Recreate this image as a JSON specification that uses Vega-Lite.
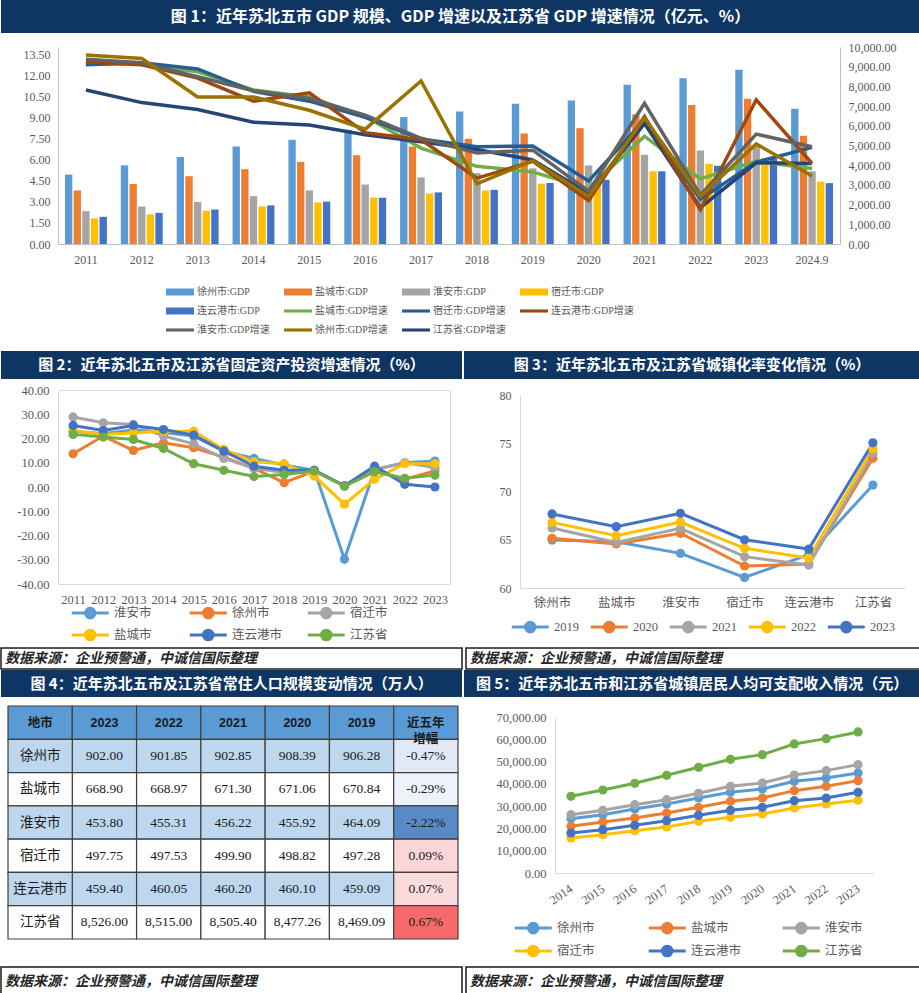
{
  "$schema": "https://vega.github.io/schema/vega-lite/v6.json",
  "background": "white",
  "padding": 0,
  "spacing": 0,
  "config": {
    "view": {"stroke": null},
    "font": "Liberation Serif, Noto Sans CJK SC",
    "locale": {"number": {"decimal": ".", "thousands": ",", "grouping": [3], "currency": ["", ""], "minus": "-"}},
    "axis": {"labelFont": "Liberation Serif, Noto Sans CJK SC", "labelColor": "#595959", "labelFontSize": 12, "domainColor": "#D9D9D9", "ticks": false, "grid": false},
    "legend": {"labelFont": "Liberation Serif, Noto Sans CJK SC", "labelColor": "#595959", "labelFontSize": 12},
    "title": {"font": "Liberation Serif, Noto Sans CJK SC"}
  },
  "resolve": {"scale": {"color": "independent", "fill": "independent"}},
  "datasets": {
    "pop": [
      {"city": "徐州市", "2023": 902.00, "2022": 901.85, "2021": 902.85, "2020": 908.39, "2019": 906.28, "g": -0.0047},
      {"city": "盐城市", "2023": 668.90, "2022": 668.97, "2021": 671.30, "2020": 671.06, "2019": 670.84, "g": -0.0029},
      {"city": "淮安市", "2023": 453.80, "2022": 455.31, "2021": 456.22, "2020": 455.92, "2019": 464.09, "g": -0.0222},
      {"city": "宿迁市", "2023": 497.75, "2022": 497.53, "2021": 499.90, "2020": 498.82, "2019": 497.28, "g": 0.0009},
      {"city": "连云港市", "2023": 459.40, "2022": 460.05, "2021": 460.20, "2020": 460.10, "2019": 459.09, "g": 0.0007},
      {"city": "江苏省", "2023": 8526.00, "2022": 8515.00, "2021": 8505.40, "2020": 8477.26, "2019": 8469.09, "g": 0.0067}
    ],
    "cols": [{"col": "地市"}, {"col": "2023"}, {"col": "2022"}, {"col": "2021"}, {"col": "2020"}, {"col": "2019"}, {"col": "近五年\n增幅"}],
    "src": [{"s": "数据来源：企业预警通，中诚信国际整理"}],
    "none": []
  },
  "vconcat": [
    {
      "width": 919, "height": 33,
      "view": {"fill": "#0F3563"},
      "data": {"values": [{"t": "图 1：近年苏北五市 GDP 规模、GDP 增速以及江苏省 GDP 增速情况（亿元、%）"}]},
      "mark": {"type": "text", "color": "white", "fontSize": 16, "fontWeight": "bold", "font": "Noto Sans CJK SC"},
      "encoding": {"text": {"field": "t"}}
    },
    {
      "hconcat": [
        {"width": 1, "height": 1, "data": {"name": "none"}, "mark": "point"},
        {
          "width": 782, "height": 197,
          "title": {"text": " ", "fontSize": 1, "offset": 7},
          "layer": [
            {
              "data": {"values": [
                {"year": "2011", "徐州市:GDP": 3520, "盐城市:GDP": 2720, "淮安市:GDP": 1670, "宿迁市:GDP": 1300, "连云港市:GDP": 1380},
                {"year": "2012", "徐州市:GDP": 3990, "盐城市:GDP": 3050, "淮安市:GDP": 1900, "宿迁市:GDP": 1500, "连云港市:GDP": 1580},
                {"year": "2013", "徐州市:GDP": 4410, "盐城市:GDP": 3440, "淮安市:GDP": 2140, "宿迁市:GDP": 1690, "连云港市:GDP": 1750},
                {"year": "2014", "徐州市:GDP": 4950, "盐城市:GDP": 3800, "淮安市:GDP": 2430, "宿迁市:GDP": 1910, "连云港市:GDP": 1960},
                {"year": "2015", "徐州市:GDP": 5290, "盐城市:GDP": 4170, "淮安市:GDP": 2720, "宿迁市:GDP": 2110, "连云港市:GDP": 2150},
                {"year": "2016", "徐州市:GDP": 5800, "盐城市:GDP": 4510, "淮安市:GDP": 3020, "宿迁市:GDP": 2350, "连云港市:GDP": 2350},
                {"year": "2017", "徐州市:GDP": 6440, "盐城市:GDP": 4950, "淮安市:GDP": 3380, "宿迁市:GDP": 2570, "连云港市:GDP": 2620},
                {"year": "2018", "徐州市:GDP": 6730, "盐城市:GDP": 5340, "淮安市:GDP": 3600, "宿迁市:GDP": 2720, "连云港市:GDP": 2750},
                {"year": "2019", "徐州市:GDP": 7120, "盐城市:GDP": 5610, "淮安市:GDP": 3840, "宿迁市:GDP": 3060, "连云港市:GDP": 3100},
                {"year": "2020", "徐州市:GDP": 7290, "盐城市:GDP": 5880, "淮安市:GDP": 3990, "宿迁市:GDP": 3260, "连云港市:GDP": 3260},
                {"year": "2021", "徐州市:GDP": 8080, "盐城市:GDP": 6590, "淮安市:GDP": 4530, "宿迁市:GDP": 3690, "连云港市:GDP": 3690},
                {"year": "2022", "徐州市:GDP": 8420, "盐城市:GDP": 7050, "淮安市:GDP": 4740, "宿迁市:GDP": 4070, "连云港市:GDP": 3970},
                {"year": "2023", "徐州市:GDP": 8840, "盐城市:GDP": 7370, "淮安市:GDP": 5000, "宿迁市:GDP": 4370, "连云港市:GDP": 4330},
                {"year": "2024.9", "徐州市:GDP": 6860, "盐城市:GDP": 5490, "淮安市:GDP": 3690, "宿迁市:GDP": 3160, "连云港市:GDP": 3090}
              ]},
              "transform": [{"fold": ["徐州市:GDP", "盐城市:GDP", "淮安市:GDP", "宿迁市:GDP", "连云港市:GDP"], "as": ["series", "v"]}],
              "mark": {"type": "bar"},
              "encoding": {
                "x": {"field": "year", "type": "nominal", "title": null,
                      "scale": {"domain": ["2011","2012","2013","2014","2015","2016","2017","2018","2019","2020","2021","2022","2023","2024.9"], "paddingInner": 0.25, "paddingOuter": 0.125},
                      "axis": {"labelAngle": 0, "labelPadding": 10, "domainColor": "#BFBFBF"}},
                "xOffset": {"field": "series", "type": "nominal", "scale": {"domain": ["徐州市:GDP", "盐城市:GDP", "淮安市:GDP", "宿迁市:GDP", "连云港市:GDP"], "paddingInner": 0.15}},
                "y": {"field": "v", "type": "quantitative", "title": null,
                      "scale": {"domain": [0, 10000], "nice": false},
                      "axis": {"orient": "right", "values": [0,1000,2000,3000,4000,5000,6000,7000,8000,9000,10000], "format": ",.2f", "labelPadding": 8, "domainColor": "#BFBFBF", "minExtent": 80}},
                "color": {"field": "series", "type": "nominal",
                          "scale": {"domain": ["徐州市:GDP","盐城市:GDP","淮安市:GDP","宿迁市:GDP","连云港市:GDP","盐城市:GDP增速","宿迁市:GDP增速","连云港市:GDP增速","淮安市:GDP增速","徐州市:GDP增速","江苏省:GDP增速"],
                                    "range": ["#5B9BD5","#ED7D31","#A5A5A5","#FFC000","#4472C4","#70AD47","#255E91","#9E480E","#636363","#997300","#264478"]},
                          "legend": {"title": " ", "titleOrient": "left", "titleFontSize": 1, "titlePadding": 149, "orient": "bottom", "direction": "horizontal", "columns": 4, "gridAlign": "all", "columnPadding": 4, "rowPadding": 0, "offset": -3, "padding": 16, "labelFontSize": 10, "labelOffset": 3,
                                     "symbolType": "M-1,-0.25H1V0.25H-1Z", "symbolSize": 784, "symbolStrokeWidth": 0,
                                     "encode": {"symbols": {"update": {"shape": {"signal": "indexof(datum.value, '增速') >= 0 ? 'M-1,-0.11H1V0.11H-1Z' : 'M-1,-0.25H1V0.25H-1Z'"}}}}}}
              }
            },
            {
              "data": {"values": [
                {"year": "2011", "盐城市:GDP增速": 12.9, "宿迁市:GDP增速": 12.8, "江苏省:GDP增速": 11.0, "连云港市:GDP增速": 13.0, "淮安市:GDP增速": 13.2, "徐州市:GDP增速": 13.5},
                {"year": "2012", "盐城市:GDP增速": 12.85, "宿迁市:GDP增速": 12.95, "江苏省:GDP增速": 10.1, "连云港市:GDP增速": 12.8, "淮安市:GDP增速": 12.95, "徐州市:GDP增速": 13.25},
                {"year": "2013", "盐城市:GDP增速": 12.3, "宿迁市:GDP增速": 12.5, "江苏省:GDP增速": 9.6, "连云港市:GDP增速": 11.85, "淮安市:GDP增速": 11.95, "徐州市:GDP增速": 10.5},
                {"year": "2014", "盐城市:GDP增速": 11.0, "宿迁市:GDP增速": 10.9, "江苏省:GDP增速": 8.7, "连云港市:GDP增速": 10.2, "淮安市:GDP增速": 10.95, "徐州市:GDP增速": 10.5},
                {"year": "2015", "盐城市:GDP增速": 10.5, "宿迁市:GDP增速": 10.2, "江苏省:GDP增速": 8.5, "连云港市:GDP增速": 10.8, "淮安市:GDP增速": 10.4, "徐州市:GDP增速": 9.55},
                {"year": "2016", "盐城市:GDP增速": 9.1, "宿迁市:GDP增速": 9.05, "江苏省:GDP增速": 7.8, "连云港市:GDP增速": 7.95, "淮安市:GDP增速": 9.2, "徐州市:GDP增速": 8.2},
                {"year": "2017", "盐城市:GDP增速": 6.85, "宿迁市:GDP增速": 7.5, "江苏省:GDP增速": 7.3, "连云港市:GDP增速": 7.45, "淮安市:GDP增速": 7.55, "徐州市:GDP增速": 11.65},
                {"year": "2018", "盐城市:GDP增速": 5.55, "宿迁市:GDP增速": 6.95, "江苏省:GDP增速": 6.75, "连云港市:GDP增速": 4.7, "淮安市:GDP增速": 6.5, "徐州市:GDP增速": 4.3},
                {"year": "2019", "盐城市:GDP增速": 5.15, "宿迁市:GDP增速": 7.0, "江苏省:GDP增速": 6.0, "连云港市:GDP增速": 5.9, "淮安市:GDP增速": 6.7, "徐州市:GDP增速": 5.95},
                {"year": "2020", "盐城市:GDP增速": 3.95, "宿迁市:GDP增速": 4.5, "江苏省:GDP增速": 3.6, "连云港市:GDP增速": 3.1, "淮安市:GDP增速": 3.75, "徐州市:GDP增速": 3.4},
                {"year": "2021", "盐城市:GDP增速": 7.7, "宿迁市:GDP增速": 8.85, "江苏省:GDP增速": 8.6, "连云港市:GDP增速": 9.1, "淮安市:GDP增速": 10.05, "徐州市:GDP增速": 9.0},
                {"year": "2022", "盐城市:GDP增速": 4.65, "宿迁市:GDP增速": 3.2, "江苏省:GDP增速": 2.6, "连云港市:GDP增速": 2.45, "淮安市:GDP增速": 3.5, "徐州市:GDP增速": 3.4},
                {"year": "2023", "盐城市:GDP增速": 5.9, "宿迁市:GDP增速": 5.85, "江苏省:GDP增速": 5.8, "连云港市:GDP增速": 10.3, "淮安市:GDP增速": 7.85, "徐州市:GDP增速": 7.15},
                {"year": "2024.9", "盐城市:GDP增速": 5.4, "宿迁市:GDP增速": 6.9, "江苏省:GDP增速": 5.75, "连云港市:GDP增速": 5.75, "淮安市:GDP增速": 6.95, "徐州市:GDP增速": 4.85}
              ]},
              "transform": [{"fold": ["盐城市:GDP增速", "宿迁市:GDP增速", "江苏省:GDP增速", "连云港市:GDP增速", "淮安市:GDP增速", "徐州市:GDP增速"], "as": ["series", "g"]}],
              "mark": {"type": "line", "strokeWidth": 3.5},
              "encoding": {
                "x": {"field": "year", "type": "nominal"},
                "y": {"field": "g", "type": "quantitative", "title": null,
                      "scale": {"domain": [0, 14.07], "nice": false},
                      "axis": {"orient": "left", "values": [0,1.5,3,4.5,6,7.5,9,10.5,12,13.5], "format": ".2f", "labelPadding": 8, "domainColor": "#BFBFBF", "minExtent": 56}},
                "color": {"field": "series", "type": "nominal", "legend": null}
              }
            }
          ],
          "resolve": {"scale": {"y": "independent"}}
        }
      ],
      "spacing": 0
    },
    {
      "hconcat": [
        {
          "width": 461, "height": 28,
          "view": {"fill": "#0F3563"},
          "data": {"values": [{"t": "图 2：近年苏北五市及江苏省固定资产投资增速情况（%）"}]},
          "mark": {"type": "text", "color": "white", "fontSize": 15, "fontWeight": "bold", "font": "Noto Sans CJK SC"},
          "encoding": {"text": {"field": "t"}}
        },
        {
          "width": 456, "height": 28,
          "view": {"fill": "#0F3563"},
          "data": {"values": [{"t": "图 3：近年苏北五市及江苏省城镇化率变化情况（%）"}]},
          "mark": {"type": "text", "color": "white", "fontSize": 15, "fontWeight": "bold", "font": "Noto Sans CJK SC"},
          "encoding": {"text": {"field": "t"}}
        }
      ],
      "spacing": 2
    },
    {
      "hconcat": [
        {"width": 1, "height": 1, "data": {"name": "none"}, "mark": "point"},
        {
          "width": 392, "height": 194,
          "title": {"text": " ", "fontSize": 1, "offset": 3},
          "view": {"stroke": "#D9D9D9"},
          "data": {"values": [
            {"year": "2011", "淮安市": 23.0, "徐州市": 13.7, "宿迁市": 28.9, "盐城市": 23.3, "连云港市": 25.4, "江苏省": 21.7},
            {"year": "2012", "淮安市": 22.0, "徐州市": 21.0, "宿迁市": 26.5, "盐城市": 21.7, "连云港市": 23.3, "江苏省": 20.6},
            {"year": "2013", "淮安市": 23.5, "徐州市": 15.1, "宿迁市": 25.8, "盐城市": 22.4, "连云港市": 25.4, "江苏省": 19.6},
            {"year": "2014", "淮安市": 22.5, "徐州市": 18.2, "宿迁市": 21.0, "盐城市": 23.0, "连云港市": 23.7, "江苏省": 15.9},
            {"year": "2015", "淮安市": 21.0, "徐州市": 16.2, "宿迁市": 17.8, "盐城市": 23.0, "连云港市": 21.4, "江苏省": 9.6},
            {"year": "2016", "淮安市": 14.8, "徐州市": 12.3, "宿迁市": 11.8, "盐城市": 15.5, "连云港市": 14.8, "江苏省": 6.9},
            {"year": "2017", "淮安市": 11.8, "徐州市": 7.7, "宿迁市": 7.7, "盐城市": 10.4, "连云港市": 8.6, "江苏省": 4.3},
            {"year": "2018", "淮安市": 9.1, "徐州市": 1.8, "宿迁市": 6.0, "盐城市": 9.6, "连云港市": 6.9, "江苏省": 5.2},
            {"year": "2019", "淮安市": 6.9, "徐州市": 6.6, "宿迁市": 6.9, "盐城市": 4.5, "连云港市": 6.9, "江苏省": 6.6},
            {"year": "2020", "淮安市": -29.8, "徐州市": 0.5, "宿迁市": 0.5, "盐城市": -7.1, "连云港市": 0.5, "江苏省": 0.3},
            {"year": "2021", "淮安市": 7.2, "徐州市": 6.6, "宿迁市": 7.2, "盐城市": 3.2, "连云港市": 8.6, "江苏省": 6.3},
            {"year": "2022", "淮安市": 10.0, "徐州市": 3.2, "宿迁市": 10.0, "盐城市": 9.6, "连云港市": 1.1, "江苏省": 3.6},
            {"year": "2023", "淮安市": 10.7, "徐州市": 6.6, "宿迁市": 8.0, "盐城市": 9.6, "连云港市": 0.0, "江苏省": 4.9}
          ]},
          "transform": [{"fold": ["淮安市", "徐州市", "宿迁市", "盐城市", "连云港市", "江苏省"], "as": ["city", "v"]}],
          "mark": {"type": "line", "strokeWidth": 3, "point": {"filled": true, "size": 85}},
          "encoding": {
            "x": {"field": "year", "type": "ordinal", "title": null, "scale": {"type": "point", "padding": 0.5}, "axis": {"labelAngle": 0, "labelPadding": 9, "domain": false, "labelFontSize": 12.5}},
            "y": {"field": "v", "type": "quantitative", "title": null, "scale": {"domain": [-40, 40], "nice": false},
                  "axis": {"values": [-40,-30,-20,-10,0,10,20,30,40], "format": ".2f", "labelPadding": 9, "domain": false, "minExtent": 55, "labelFontSize": 12.5}},
            "color": {"field": "city", "type": "nominal",
                      "scale": {"domain": ["淮安市", "徐州市", "宿迁市", "盐城市", "连云港市", "江苏省"], "range": ["#5B9BD5", "#ED7D31", "#A5A5A5", "#FFC000", "#4472C4", "#70AD47"]},
                      "legend": {"title": " ", "titleOrient": "left", "titleFontSize": 1, "titlePadding": 12, "orient": "bottom", "direction": "horizontal", "columns": 3, "gridAlign": "all", "columnPadding": 18, "rowPadding": -6, "offset": -4, "padding": 0, "labelFontSize": 12.5, "labelOffset": 22,
                                 "symbolType": "M-1,0H3M1.52,0A0.52,0.52 0 1,1 0.48,0A0.52,0.52 0 1,1 1.52,0M1.32,0A0.32,0.32 0 1,1 0.68,0A0.32,0.32 0 1,1 1.32,0M1.12,0A0.12,0.12 0 1,1 0.88,0A0.12,0.12 0 1,1 1.12,0",
                                 "symbolSize": 342, "symbolStrokeWidth": 3}}
          }
        },
        {
          "width": 385, "height": 198,
          "data": {"values": [
            {"city": "徐州市", "2019": 64.97, "2020": 65.15, "2021": 66.22, "2022": 66.8, "2023": 67.67},
            {"city": "盐城市", "2019": 64.8, "2020": 64.56, "2021": 64.73, "2022": 65.42, "2023": 66.36},
            {"city": "淮安市", "2019": 63.59, "2020": 65.67, "2021": 66.18, "2022": 66.84, "2023": 67.74},
            {"city": "宿迁市", "2019": 61.1, "2020": 62.28, "2021": 63.25, "2022": 64.11, "2023": 65.0},
            {"city": "连云港市", "2019": 63.45, "2020": 62.49, "2021": 62.38, "2022": 63.11, "2023": 64.04},
            {"city": "江苏省", "2019": 70.67, "2020": 73.44, "2021": 73.94, "2022": 74.42, "2023": 75.04}
          ]},
          "transform": [{"fold": ["2019", "2020", "2021", "2022", "2023"], "as": ["year", "v"]}],
          "mark": {"type": "line", "strokeWidth": 3, "point": {"filled": true, "size": 85}},
          "encoding": {
            "x": {"field": "city", "type": "nominal", "title": null, "sort": ["徐州市", "盐城市", "淮安市", "宿迁市", "连云港市", "江苏省"], "scale": {"type": "point", "padding": 0.5}, "axis": {"labelAngle": 0, "labelPadding": 8, "labelFontSize": 12.5}},
            "y": {"field": "v", "type": "quantitative", "title": null, "scale": {"domain": [60, 80], "nice": false, "range": [198, 5]},
                  "axis": {"values": [60, 65, 70, 75, 80], "labelPadding": 9, "minExtent": 69}},
            "color": {"field": "year", "type": "nominal",
                      "scale": {"domain": ["2019", "2020", "2021", "2022", "2023"], "range": ["#5B9BD5", "#ED7D31", "#A5A5A5", "#FFC000", "#4472C4"]},
                      "legend": {"title": null, "orient": "none", "legendX": -10, "legendY": 226, "direction": "horizontal", "columns": 5, "columnPadding": 5, "padding": 0, "labelFontSize": 12.5, "labelOffset": 22,
                                 "symbolType": "M-1,0H3M1.52,0A0.52,0.52 0 1,1 0.48,0A0.52,0.52 0 1,1 1.52,0M1.32,0A0.32,0.32 0 1,1 0.68,0A0.32,0.32 0 1,1 1.32,0M1.12,0A0.12,0.12 0 1,1 0.88,0A0.12,0.12 0 1,1 1.12,0",
                                 "symbolSize": 342, "symbolStrokeWidth": 3}}
          }
        }
      ],
      "spacing": 0,
      "resolve": {"scale": {"color": "independent"}}
    },
    {
      "hconcat": [
        {
          "width": 461, "height": 21,
          "view": {"stroke": "#1A1A1A", "strokeWidth": 1.5},
          "data": {"name": "src"},
          "mark": {"type": "text", "align": "left", "dx": 4, "fontSize": 14, "fontStyle": "italic", "fontWeight": "bold", "color": "#262626", "font": "Noto Sans CJK SC"},
          "encoding": {"text": {"field": "s"}, "x": {"datum": 0, "type": "quantitative", "scale": {"domain": [0, 1]}, "axis": null}}
        },
        {
          "width": 456, "height": 21,
          "view": {"stroke": "#1A1A1A", "strokeWidth": 1.5},
          "data": {"name": "src"},
          "mark": {"type": "text", "align": "left", "dx": 4, "fontSize": 14, "fontStyle": "italic", "fontWeight": "bold", "color": "#262626", "font": "Noto Sans CJK SC"},
          "encoding": {"text": {"field": "s"}, "x": {"datum": 0, "type": "quantitative", "scale": {"domain": [0, 1]}, "axis": null}}
        }
      ],
      "spacing": 2
    },
    {
      "hconcat": [
        {
          "width": 461, "height": 27,
          "view": {"fill": "#0F3563"},
          "data": {"values": [{"t": "图 4：近年苏北五市及江苏省常住人口规模变动情况（万人）"}]},
          "mark": {"type": "text", "color": "white", "fontSize": 15, "fontWeight": "bold", "font": "Noto Sans CJK SC"},
          "encoding": {"text": {"field": "t"}}
        },
        {
          "width": 456, "height": 27,
          "view": {"fill": "#0F3563"},
          "data": {"values": [{"t": "图 5：近年苏北五市和江苏省城镇居民人均可支配收入情况（元）"}]},
          "mark": {"type": "text", "color": "white", "fontSize": 15, "fontWeight": "bold", "font": "Noto Sans CJK SC"},
          "encoding": {"text": {"field": "t"}}
        }
      ],
      "spacing": 2
    },
    {
      "hconcat": [
        {
          "width": 464, "height": 222,
          "layer": [
            {
              "data": {"name": "cols"},
              "mark": {"type": "rect", "fill": "#5B9BD5", "stroke": "#3F3F3F", "strokeWidth": 1.2},
              "encoding": {
                "x": {"field": "col", "type": "nominal", "sort": null, "scale": {"domain": ["地市", "2023", "2022", "2021", "2020", "2019", "近五年\n增幅"], "paddingInner": 0, "paddingOuter": 0.109}, "axis": null},
                "y": {"datum": "表头", "type": "nominal", "scale": {"domain": ["表头", "徐州市", "盐城市", "淮安市", "宿迁市", "连云港市", "江苏省"], "paddingInner": 0, "paddingOuter": 0, "range": [-11, 222]}, "axis": null}
              }
            },
            {
              "data": {"name": "pop"},
              "transform": [{"fold": ["2023", "2022", "2021", "2020", "2019"], "as": ["year", "v"]}],
              "mark": {"type": "rect", "stroke": "#3F3F3F", "strokeWidth": 1.2},
              "encoding": {
                "x": {"field": "year", "type": "nominal"},
                "y": {"field": "city", "type": "nominal"},
                "fill": {"field": "city", "type": "nominal", "scale": {"domain": ["徐州市", "盐城市", "淮安市", "宿迁市", "连云港市", "江苏省"], "range": ["#BDD7EE", "#FFFFFF", "#BDD7EE", "#FFFFFF", "#BDD7EE", "#FFFFFF"]}, "legend": null}
              }
            },
            {
              "data": {"name": "pop"},
              "mark": {"type": "rect", "stroke": "#3F3F3F", "strokeWidth": 1.2},
              "encoding": {
                "x": {"datum": "地市", "type": "nominal"},
                "y": {"field": "city", "type": "nominal"},
                "fill": {"field": "city", "type": "nominal", "legend": null}
              }
            },
            {
              "data": {"name": "pop"},
              "mark": {"type": "rect", "stroke": "#3F3F3F", "strokeWidth": 1.2},
              "encoding": {
                "x": {"datum": "近五年\n增幅", "type": "nominal"},
                "y": {"field": "city", "type": "nominal"},
                "color": {"field": "g", "type": "quantitative", "scale": {"domain": [-0.0222, -0.0011, 0.0067], "range": ["#5A8AC6", "#FCFCFF", "#F8696B"], "interpolate": "rgb"}, "legend": null}
              }
            },
            {
              "data": {"name": "cols"},
              "mark": {"type": "text", "fontSize": 12.5, "fontWeight": "bold", "lineBreak": "\n", "lineHeight": 16, "color": "#1A1A1A", "font": "Liberation Sans, Noto Sans CJK SC"},
              "encoding": {
                "x": {"field": "col", "type": "nominal"},
                "y": {"datum": "表头", "type": "nominal"},
                "text": {"field": "col"}
              }
            },
            {
              "data": {"name": "pop"},
              "transform": [{"fold": ["2023", "2022", "2021", "2020", "2019"], "as": ["year", "v"]}],
              "mark": {"type": "text", "fontSize": 13.5, "color": "#1A1A1A"},
              "encoding": {
                "x": {"field": "year", "type": "nominal"},
                "y": {"field": "city", "type": "nominal"},
                "text": {"field": "v", "type": "quantitative", "format": ",.2f"}
              }
            },
            {
              "data": {"name": "pop"},
              "mark": {"type": "text", "fontSize": 13.5, "color": "#1A1A1A"},
              "encoding": {
                "x": {"datum": "地市", "type": "nominal"},
                "y": {"field": "city", "type": "nominal"},
                "text": {"field": "city"}
              }
            },
            {
              "data": {"name": "pop"},
              "mark": {"type": "text", "fontSize": 13.5, "color": "#1A1A1A"},
              "encoding": {
                "x": {"datum": "近五年\n增幅", "type": "nominal"},
                "y": {"field": "city", "type": "nominal"},
                "text": {"field": "g", "type": "quantitative", "format": ".2%"}
              }
            }
          ]
        },
        {
          "width": 319, "height": 156,
          "title": {"text": " ", "fontSize": 1, "offset": 13},
          "data": {"values": [
            {"year": "2014", "徐州市": 24380, "盐城市": 20940, "淮安市": 26180, "宿迁市": 15710, "连云港市": 17950, "江苏省": 34400},
            {"year": "2015", "徐州市": 26180, "盐城市": 22890, "淮安市": 28120, "宿迁市": 17200, "连云港市": 19450, "江苏省": 37250},
            {"year": "2016", "徐州市": 28720, "盐城市": 24680, "淮安市": 30670, "宿迁市": 19000, "连云港市": 21390, "江苏省": 40240},
            {"year": "2017", "徐州市": 30970, "盐城市": 26930, "淮安市": 32910, "宿迁市": 20640, "连云港市": 23490, "江苏省": 43830},
            {"year": "2018", "徐州市": 33660, "盐城市": 29470, "淮安市": 35750, "宿迁市": 23190, "连云港市": 25880, "江苏省": 47420},
            {"year": "2019", "徐州市": 36200, "盐城市": 32160, "淮安市": 38900, "宿迁市": 24980, "连云港市": 28120, "江苏省": 51010},
            {"year": "2020", "徐州市": 37700, "盐城市": 33660, "淮安市": 40390, "宿迁市": 26480, "连云港市": 29470, "江苏省": 53110},
            {"year": "2021", "徐州市": 41140, "盐城市": 36950, "淮安市": 43980, "宿迁市": 29170, "连云港市": 32460, "江苏省": 57900},
            {"year": "2022", "徐州市": 42640, "盐城市": 38900, "淮安市": 45930, "宿迁市": 30970, "连云港市": 33660, "江苏省": 60290},
            {"year": "2023", "徐州市": 44880, "盐城市": 41440, "淮安市": 48620, "宿迁市": 32610, "连云港市": 36200, "江苏省": 63280}
          ]},
          "transform": [{"fold": ["徐州市", "盐城市", "淮安市", "宿迁市", "连云港市", "江苏省"], "as": ["city", "v"]}],
          "mark": {"type": "line", "strokeWidth": 3, "point": {"filled": true, "size": 85}},
          "encoding": {
            "x": {"field": "year", "type": "ordinal", "title": null, "scale": {"type": "point", "padding": 0.5}, "axis": {"labelAngle": -35, "labelAlign": "right", "labelBaseline": "middle", "labelPadding": 14, "labelFontSize": 12.5}},
            "y": {"field": "v", "type": "quantitative", "title": null, "scale": {"domain": [0, 70000], "nice": false},
                  "axis": {"values": [0, 10000, 20000, 30000, 40000, 50000, 60000, 70000], "format": ",.2f", "labelPadding": 9, "minExtent": 90, "labelFontSize": 12.5}},
            "color": {"field": "city", "type": "nominal",
                      "scale": {"domain": ["徐州市", "盐城市", "淮安市", "宿迁市", "连云港市", "江苏省"], "range": ["#5B9BD5", "#ED7D31", "#A5A5A5", "#FFC000", "#4472C4", "#70AD47"]},
                      "legend": {"title": null, "orient": "none", "legendX": -46, "legendY": 196, "direction": "horizontal", "columns": 3, "gridAlign": "all", "columnPadding": 34, "rowPadding": 1, "padding": 4, "labelFontSize": 12.5, "labelOffset": 22,
                                 "symbolType": "M-1,0H3M1.52,0A0.52,0.52 0 1,1 0.48,0A0.52,0.52 0 1,1 1.52,0M1.32,0A0.32,0.32 0 1,1 0.68,0A0.32,0.32 0 1,1 1.32,0M1.12,0A0.12,0.12 0 1,1 0.88,0A0.12,0.12 0 1,1 1.12,0",
                                 "symbolSize": 342, "symbolStrokeWidth": 3}}
          }
        }
      ],
      "spacing": 0,
      "resolve": {"scale": {"color": "independent", "fill": "independent"}}
    },
    {
      "hconcat": [
        {
          "width": 461, "height": 29,
          "view": {"stroke": "#1A1A1A", "strokeWidth": 1.5},
          "data": {"name": "src"},
          "mark": {"type": "text", "align": "left", "dx": 4, "fontSize": 14, "fontStyle": "italic", "fontWeight": "bold", "color": "#262626", "font": "Noto Sans CJK SC"},
          "encoding": {"text": {"field": "s"}, "x": {"datum": 0, "type": "quantitative", "scale": {"domain": [0, 1]}, "axis": null}}
        },
        {
          "width": 456, "height": 29,
          "view": {"stroke": "#1A1A1A", "strokeWidth": 1.5},
          "data": {"name": "src"},
          "mark": {"type": "text", "align": "left", "dx": 4, "fontSize": 14, "fontStyle": "italic", "fontWeight": "bold", "color": "#262626", "font": "Noto Sans CJK SC"},
          "encoding": {"text": {"field": "s"}, "x": {"datum": 0, "type": "quantitative", "scale": {"domain": [0, 1]}, "axis": null}}
        }
      ],
      "spacing": 2
    }
  ]
}
